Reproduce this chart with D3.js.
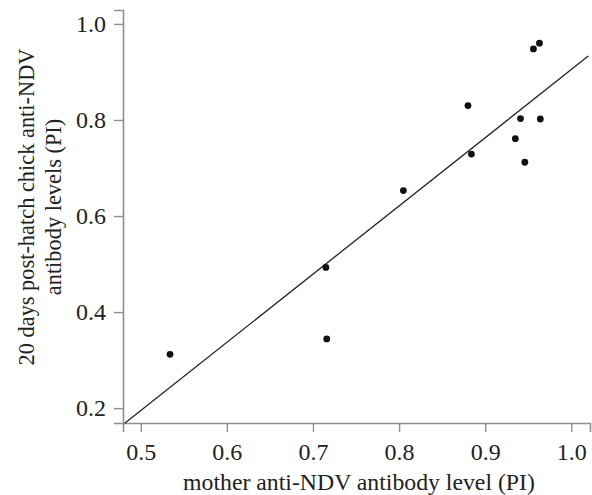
<!DOCTYPE html>
<html>
<head>
<meta charset="utf-8">
<script src="https://cdn.jsdelivr.net/npm/d3@7"></script>
<style>
  body { margin: 0; background: #fff; }
  svg text { font-family: "Liberation Serif", "Times New Roman", serif; fill: #222; }
</style>
</head>
<body>
<div id="chart"></div>
<script>
// mother vs 20-day chick antibody levels (PI)
const motherPI = [0.534, 0.715, 0.716, 0.805, 0.880, 0.884, 0.935, 0.941, 0.946, 0.956, 0.963, 0.964];
const chickPI = [0.312, 0.493, 0.344, 0.653, 0.830, 0.729, 0.761, 0.803, 0.712, 0.948, 0.960, 0.802];
const xTicks = [0.5, 0.6, 0.7, 0.8, 0.9, 1.0];
const yTicks = [0.2, 0.4, 0.6, 0.8, 1.0];
// fitted line: y = slope * x + intercept
const fitSlope = 1.42;
const fitIntercept = -0.515;

const width = 592;
const height = 495;
const margin = { top: 10, right: 2, bottom: 72, left: 123 };

const svg = d3.select('#chart')
  .append('svg')
  .attr('width', width)
  .attr('height', height);

const x = d3.scaleLinear()
  .domain([0.4794, 1.0217])
  .range([margin.left, width - margin.right]);

const y = d3.scaleLinear()
  .domain([0.169, 1.029])
  .range([height - margin.bottom, margin.top]);

const xAxis = svg.append('g')
  .attr('transform', `translate(0,${height - margin.bottom})`)
  .call(d3.axisBottom(x).tickValues(xTicks).tickFormat(d3.format('.1f')).tickSizeOuter(0).tickSize(9).tickPadding(11));

const yAxis = svg.append('g')
  .attr('transform', `translate(${margin.left},0)`)
  .call(d3.axisLeft(y).tickValues(yTicks).tickFormat(d3.format('.1f')).tickSizeOuter(0).tickSize(9).tickPadding(8));

[xAxis, yAxis].forEach((g) => {
  g.select('.domain').attr('stroke', '#8f8f8f').attr('stroke-width', 1.6);
  g.selectAll('.tick line').attr('stroke', '#8f8f8f').attr('stroke-width', 1.4);
  g.selectAll('.tick text')
    .style('font-family', '"Liberation Serif", serif')
    .style('font-size', '24px')
    .attr('fill', '#222');
});

// regression line across the plot area
const x0 = x.domain()[0] + 0.002;
const x1 = x.domain()[1] - 0.002;
svg.append('line')
  .attr('x1', x(x0))
  .attr('y1', y(fitSlope * x0 + fitIntercept))
  .attr('x2', x(x1))
  .attr('y2', y(fitSlope * x1 + fitIntercept))
  .attr('stroke', '#222')
  .attr('stroke-width', 1.3);

svg.append('g')
  .selectAll('circle')
  .data(motherPI)
  .join('circle')
  .attr('cx', (d) => x(d))
  .attr('cy', (d, i) => y(chickPI[i]))
  .attr('r', 3.4)
  .attr('fill', '#111');

// size a text so its length matches the target width
function fitText(sel, target) {
  sel.style('font-size', '20px');
  const len = sel.node().getComputedTextLength();
  sel.style('font-size', `${(20 * target / len).toFixed(2)}px`);
}

const xTitle = svg.append('text')
  .attr('x', 359)
  .attr('y', 490)
  .attr('text-anchor', 'middle')
  .text('mother anti-NDV antibody level (PI)');
fitText(xTitle, 352);

const yTitle = svg.append('g')
  .attr('transform', 'translate(0,207) rotate(-90)');

const yLine1 = yTitle.append('text')
  .attr('x', 0)
  .attr('y', 34)
  .attr('text-anchor', 'middle')
  .text('20 days post-hatch chick anti-NDV');
fitText(yLine1, 317);

const yLine2 = yTitle.append('text')
  .attr('x', 0)
  .attr('y', 61)
  .attr('text-anchor', 'middle')
  .text('antibody levels (PI)');
yLine2.style('font-size', yLine1.style('font-size'));
</script>
</body>
</html>
